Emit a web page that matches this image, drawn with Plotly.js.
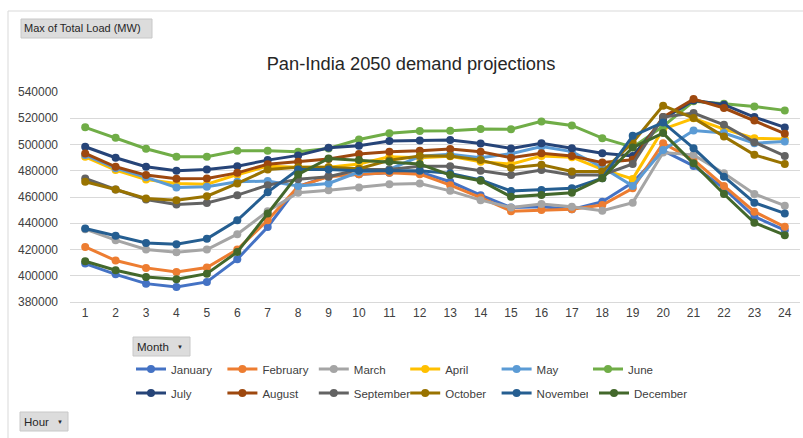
<!DOCTYPE html>
<html>
<head>
<meta charset="utf-8">
<script src="https://cdn.plot.ly/plotly-3.0.1.min.js"></script>
<style>
  body { margin: 0; padding: 0; background: #ffffff; }
  #chart { width: 803px; height: 438px; }
</style>
</head>
<body>
<div id="chart"></div>
<script>
var hours = [];
for (let h = 1; h <= 24; h++){
    hours.push(h);
}

var months = ["January", "February", "March", "April", "May", "June",
              "July", "August", "September", "October", "November", "December"];

var january   = [409300, 401100, 394000, 391500, 395300, 412600, 437200, 468000, 476000, 477400, 478500, 479000, 471600, 461400, 452000, 452600, 450600, 456400, 471000, 495400, 483700, 466600, 445000, 434700];
var february  = [422000, 411600, 406000, 402900, 406200, 420000, 442300, 468000, 475500, 477400, 478500, 477400, 469000, 459600, 449200, 450100, 450600, 453900, 466600, 501000, 488300, 468400, 448800, 437300];
var march     = [435500, 427100, 420000, 417900, 420000, 431700, 449200, 463200, 465200, 467300, 469800, 470300, 464700, 457600, 452000, 454600, 452600, 449500, 455700, 493900, 492100, 478100, 462300, 453400];
var april     = [490600, 480500, 473400, 470300, 469800, 477000, 483500, 482600, 482600, 485100, 490700, 490000, 491000, 486800, 485000, 491300, 490300, 481100, 473800, 511700, 520000, 511700, 504800, 504100];
var may       = [492000, 482000, 475000, 467300, 467800, 471600, 472100, 468300, 470300, 479000, 481000, 491000, 492500, 490000, 493000, 498500, 494600, 482700, 468400, 495900, 510700, 508700, 501000, 502300];
var june      = [513100, 505100, 496800, 490700, 490700, 495200, 495200, 494500, 497000, 503800, 508500, 510200, 510500, 511800, 511600, 517600, 514500, 504800, 498000, 513800, 532900, 531100, 529000, 526000];
var july      = [498300, 489900, 483000, 480000, 481000, 483500, 488100, 491700, 497500, 499000, 502600, 503100, 503400, 500800, 497000, 501000, 497200, 493400, 491300, 519400, 533600, 530300, 520900, 513000];
var august    = [493200, 483000, 476700, 473900, 474100, 478400, 485000, 486800, 489000, 492700, 494500, 495200, 496500, 494500, 489900, 493400, 491300, 486200, 488300, 520900, 534600, 527800, 518300, 508200];
var september = [474100, 465700, 458100, 454300, 455500, 461400, 469000, 473600, 475400, 481000, 481000, 483500, 483500, 480000, 476700, 480600, 476800, 476800, 485200, 520900, 524000, 515000, 501800, 491300];
var october   = [471600, 465700, 458900, 457600, 460600, 470300, 481000, 482600, 482600, 481500, 488000, 491200, 491300, 488100, 482300, 484500, 479400, 479400, 501500, 529600, 520100, 506100, 492100, 485200];
var november  = [436000, 430400, 425000, 424000, 428100, 442300, 463700, 481000, 481000, 480000, 480000, 480000, 478000, 473000, 464500, 465300, 466600, 474300, 506600, 516800, 497200, 475500, 455700, 447500];
var december  = [411000, 404200, 399100, 397300, 401600, 418100, 447400, 477200, 489400, 488100, 486800, 485100, 476700, 472400, 460100, 461500, 463300, 474300, 497700, 508700, 485700, 462300, 440400, 430900];

var seriesValues = [january, february, march, april, may, june,
                    july, august, september, october, november, december];

var colors = ["#4472C4", "#ED7D31", "#A5A5A5", "#FFC000", "#5B9BD5", "#70AD47",
              "#264478", "#9E480E", "#636363", "#997300", "#255E91", "#43682B"];

// which legend row each month goes into (December gets its own so its label is not clipped)
var legendOf = ["legend", "legend", "legend", "legend", "legend", "legend",
                "legend2", "legend2", "legend2", "legend2", "legend2", "legend3"];

// plot area in pixels, used to place the pivot buttons and the border
var plotLeft = 70, plotRight = 800, plotTop = 92, plotBottom = 302;

function px(x){
    return (x - plotLeft) / (plotRight - plotLeft);
}

function py(y){
    return (plotBottom - y) / (plotBottom - plotTop);
}

function getLineTrace(traceName, xSeries, ySeries, Color, legendName){
    let trace = {
        name: traceName,
        x: xSeries,
        y: ySeries,
        type: 'scatter',
        mode: 'lines+markers',
        legend: legendName,
        line: {
            color: Color,
            width: 3
        },
        marker: {
            color: Color,
            size: 8
        },
        hoverinfo: 'none'
    };
    return trace;
}

function getButton(x0, y0, x1, y1){
    return {
        type: 'rect',
        xref: 'paper', yref: 'paper',
        x0: px(x0), x1: px(x1), y0: py(y0), y1: py(y1),
        fillcolor: '#dcdcdc',
        line: { color: '#c8c8c8', width: 1 },
        layer: 'above'
    };
}

function getLabel(text, x, y, size){
    return {
        text: text,
        xref: 'paper', yref: 'paper',
        x: px(x), y: py(y),
        xanchor: 'left', yanchor: 'middle',
        showarrow: false,
        font: { family: 'Liberation Sans, Arial, sans-serif', size: size, color: '#262626' }
    };
}

function getLegend(x, y, fixedWidth){
    let legend = {
        orientation: 'h',
        x: px(x), xanchor: 'left',
        y: py(y), yanchor: 'middle',
        font: { family: 'Liberation Sans, Arial, sans-serif', size: 11.5, color: '#404040' },
        bgcolor: 'rgba(0,0,0,0)'
    };
    if (fixedWidth){
        legend.entrywidth = 46.4;
        legend.entrywidthmode = 'pixels';
    }
    return legend;
}

var traces = [];
for (let i = 0; i < months.length; i++){
    traces.push(getLineTrace(months[i], hours, seriesValues[i], colors[i], legendOf[i]));
}

var layout = {
    width: 803,
    height: 438,
    margin: { l: plotLeft, r: 803 - plotRight, t: plotTop, b: 438 - plotBottom },
    paper_bgcolor: '#ffffff',
    plot_bgcolor: '#ffffff',
    title: {
        text: 'Pan-India 2050 demand projections',
        font: { family: 'Liberation Sans, Arial, sans-serif', size: 18.3, color: '#262626' },
        x: 411 / 803, xref: 'container', xanchor: 'center',
        y: 1 - 64 / 438, yanchor: 'middle'
    },
    xaxis: {
        type: 'category',
        range: [-0.5, 23.5],
        showgrid: false,
        showline: true,
        linecolor: '#d9d9d9',
        ticks: '',
        tickfont: { family: 'Liberation Sans, Arial, sans-serif', size: 12, color: '#404040' },
        fixedrange: true
    },
    yaxis: {
        range: [380000, 540000],
        tick0: 380000,
        dtick: 20000,
        tickformat: 'd',
        showgrid: true,
        gridcolor: '#d9d9d9',
        gridwidth: 1,
        zeroline: false,
        showline: false,
        ticks: '',
        ticklabelstandoff: 11,
        tickfont: { family: 'Liberation Sans, Arial, sans-serif', size: 12, color: '#404040' },
        fixedrange: true
    },
    legend: getLegend(131, 369, true),
    legend2: getLegend(131, 393, true),
    legend3: getLegend(594, 393, false),
    shapes: [
        // chart area border (left and top edges)
        {
            type: 'line', xref: 'paper', yref: 'paper',
            x0: px(8), x1: px(8), y0: py(11), y1: py(440),
            line: { color: '#d9d9d9', width: 1 }
        },
        {
            type: 'line', xref: 'paper', yref: 'paper',
            x0: px(8), x1: px(805), y0: py(11), y1: py(11),
            line: { color: '#d9d9d9', width: 1 }
        },
        getButton(21, 19, 152, 38),
        getButton(133, 337, 190, 356),
        getButton(20, 412, 68, 431)
    ],
    annotations: [
        getLabel('Max of Total Load (MW)', 22, 28.5, 11),
        getLabel('Month', 135, 346.5, 11.5),
        getLabel('▼', 175, 346.5, 6),
        getLabel('Hour', 22, 421.5, 11.5),
        getLabel('▼', 55, 421.5, 6)
    ],
    showlegend: true
};

Plotly.newPlot('chart', traces, layout, { displayModeBar: false, staticPlot: true });
</script>
</body>
</html>
